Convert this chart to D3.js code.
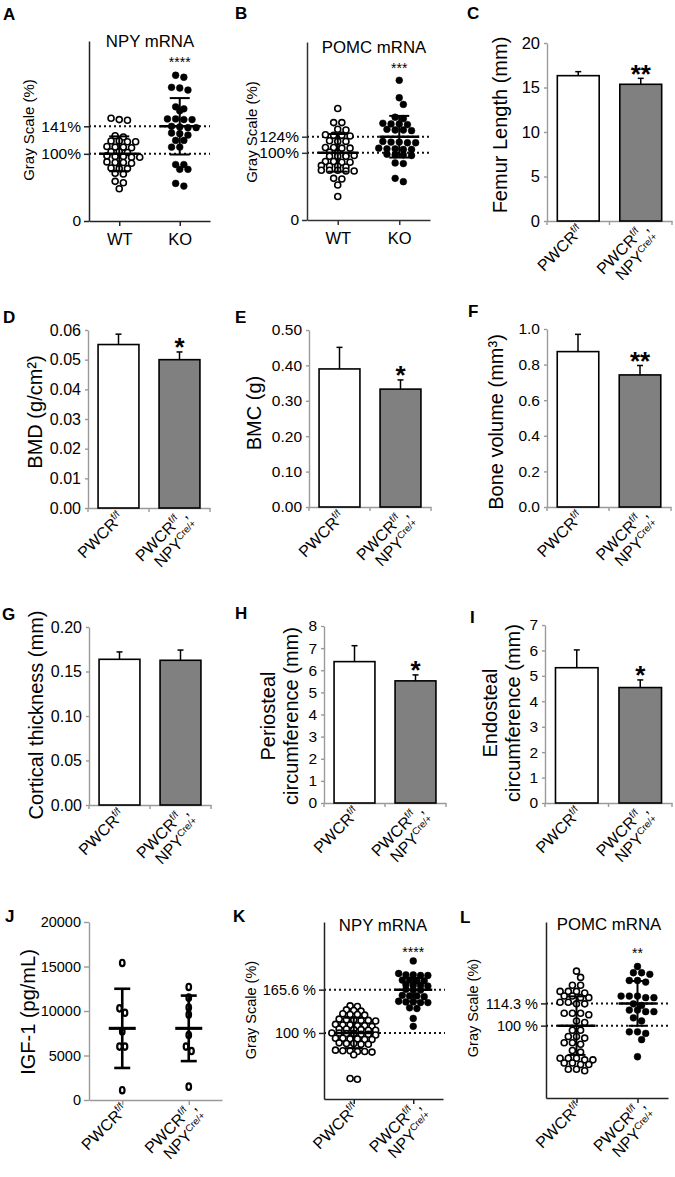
<!DOCTYPE html>
<html><head><meta charset="utf-8">
<script src="https://cdn.jsdelivr.net/npm/d3@7"></script>
<style>
body{margin:0;background:#fff;}
svg{display:block;}
</style></head><body>
<script>
// ================= DATA =================
const mrnaGroups = ["WT", "KO"];
const genoGroups = ["PWCR^f/f", "PWCR^f/f ,|NPY^Cre/+"];

// A: NPY mRNA (gray scale %)
const npyWT_A = [153,151,150,127,125,119,118,119,118,111,110,110,109,103,103,102,97,96,96,95,95,88,87,87,86,79,78,78,71,70,59,57,48];
const npyKO_A = [217,214,199,198,195,170,167,164,152,152,151,151,141,140,139,139,131,130,128,120,120,110,110,84,84,77,77,56,52];
const npyMean_A = [100, 141];
const npySD_A = [26, 42];
const npyTicks_A = [0, 100, 141];
const npyTickLabels_A = ["0", "100%", "141%"];

// B: POMC mRNA (gray scale %)
const pomcWT_B = [166,145,145,135,134,127,126,126,125,118,117,117,108,108,107,107,101,100,96,96,95,95,95,87,87,86,86,81,80,80,79,74,74,74,73,73,62,61,52,35];
const pomcKO_B = [208,182,172,153,151,144,143,143,142,135,134,134,133,117,116,116,115,115,107,106,106,105,105,98,97,97,96,85,84,62,57];
const pomcMean_B = [100, 124];
const pomcSD_B = [28, 31];
const pomcTicks_B = [0, 100, 124];
const pomcTickLabels_B = ["0", "100%", "124%"];

// C-I: bar charts (mean, error)
const femurLength = [16.33, 15.36], femurLengthErr = [0.45, 0.67], femurTicks = [0, 5, 10, 15, 20], femurStars = ["", "**"];
const bmd = [0.0551, 0.0500], bmdErr = [0.0035, 0.0026], bmdTicks = [0, 0.01, 0.02, 0.03, 0.04, 0.05, 0.06], bmdStars = ["", "*"];
const bmc = [0.390, 0.333], bmcErr = [0.061, 0.026], bmcTicks = [0, 0.1, 0.2, 0.3, 0.4, 0.5], bmcStars = ["", "*"];
const boneVolume = [0.873, 0.742], boneVolumeErr = [0.097, 0.053], boneVolumeTicks = [0, 0.2, 0.4, 0.6, 0.8, 1.0], boneVolumeStars = ["", "**"];
const cortThick = [0.1637, 0.1626], cortThickErr = [0.0083, 0.0115], cortThickTicks = [0, 0.05, 0.10, 0.15, 0.20], cortThickStars = ["", ""];
const periCirc = [6.39, 5.52], periCircErr = [0.72, 0.27], periCircTicks = [0, 1, 2, 3, 4, 5, 6, 7, 8], periCircStars = ["", "*"];
const endoCirc = [5.32, 4.54], endoCircErr = [0.70, 0.30], endoCircTicks = [0, 1, 2, 3, 4, 5, 6, 7], endoCircStars = ["", "*"];

// J: IGF-1 (pg/mL)
const igfWT = [15400, 10300, 9800, 7700, 6000, 6000, 1100];
const igfKO = [12700, 11500, 10400, 9600, 7300, 6000, 5500, 1500];
const igfMean = [8050, 8050];
const igfSD = [4450, 3680];
const igfTicks = [0, 5000, 10000, 15000, 20000];

// K: NPY mRNA
const npyWT_K = [141,140,135,134,133,129,128,128,127,121,120,120,119,119,118,113,112,112,111,111,110,106,106,105,105,104,104,100,100,99,99,98,98,97,92,92,91,91,90,90,85,84,84,83,83,74,73,73,72,72,71,67,31,30];
const npyKO_K = [209,190,188,188,187,187,180,180,179,179,173,172,172,171,166,165,165,157,156,156,155,148,147,147,146,146,138,137,122,110];
const npyMean_K = [100, 165.6];
const npySD_K = [23, 17.7];
const npyTicks_K = [100, 165.6];
const npyTickLabels_K = ["100 %", "165.6 %"];

// L: POMC mRNA
const pomcWT_L = [135,131,126,126,122,122,122,121,119,119,118,118,115,115,114,114,108,108,108,107,103,102,97,97,93,93,92,89,89,88,84,83,79,79,79,78,78,76,76,75,75,72,72,71];
const pomcKO_L = [138,134,134,133,129,129,128,119,119,119,118,118,114,113,110,110,109,109,105,103,96,96,95,91,80];
const pomcMean_L = [100, 114.3];
const pomcSD_L = [18.8, 14.4];
const pomcTicks_L = [100, 114.3];
const pomcTickLabels_L = ["100 %", "114.3 %"];

// ================= DRAWING =================
const FONT = '"Liberation Sans", Arial, Helvetica, sans-serif';
const svg = d3.select("body").append("svg")
  .attr("width", 675).attr("height", 1177)
  .style("font-family", FONT);

function panelLetter(t, x, y) {
  svg.append("text").attr("x", x).attr("y", y)
    .attr("font-size", 17).attr("font-weight", "bold").text(t);
}

function rotYLabel(lines, cx, cy, size) {
  const n = lines.length, lh = size * 1.15;
  lines.forEach((s, i) => {
    const bx = cx + (i - (n - 1) / 2) * lh + size * 0.35;
    svg.append("text").attr("transform", `translate(${bx},${cy}) rotate(-90)`)
      .attr("text-anchor", "middle").attr("font-size", size).text(s);
  });
}

function rotXLabel(label, cx, axisY, size) {
  const lines = label.split("|");
  const two = lines.length > 1;
  const ax = two ? cx + 9 : cx + 6, ay = two ? axisY + 8 : axisY + 11;
  const t = svg.append("text").attr("transform", `translate(${ax},${ay}) rotate(-45)`)
    .attr("text-anchor", "end").attr("font-size", size);
  let cur = 0;
  lines.forEach((ln, i) => {
    const m = ln.match(/^([^^]*)\^(\S+)(.*)$/);
    const base = i * size * 1.08;
    t.append("tspan").attr("x", 0).attr("dy", base - cur).text(m[1]); cur = base;
    const sh = -size * 0.38;
    t.append("tspan").attr("dy", sh).attr("font-size", size * 0.6).text(m[2]); cur = base + sh;
    if (m[3]) { t.append("tspan").attr("dy", base - cur).text(m[3]); cur = base; }
  });
}

function styleAxis(sel, color, width, fontSize) {
  sel.attr("font-family", null).attr("font-size", fontSize);
  sel.select(".domain").attr("stroke", color).attr("stroke-width", width);
  sel.selectAll(".tick line").attr("stroke", color).attr("stroke-width", width);
  sel.selectAll(".tick text").attr("fill", "#000");
}

// GraphPad-style scatter layout: points binned into rows, rows centred on the column
function swarm(vals, y, cx, d, binH) {
  const pts = vals.map(v => ({ v, y: y(v) })).sort((a, b) => a.y - b.y);
  const rows = []; let cur = null;
  pts.forEach(p => {
    if (!cur || p.y - cur[0].y > binH) { cur = [p]; rows.push(cur); } else cur.push(p);
  });
  let prev = null, flip = 1;
  rows.forEach(r => {
    let shift = 0;
    if (prev && (r.length % 2) === (prev.r.length % 2) && Math.abs(r[0].y - prev.r[0].y) < d * 0.95) {
      shift = prev.shift === 0 ? flip * d / 2 : 0; flip = -flip;
    }
    r.forEach((p, i) => p.x = cx + (i - (r.length - 1) / 2) * d + shift);
    prev = { r, shift };
  });
  return pts;
}

function scatterPanel(o) {
  const g = svg.append("g");
  const y = d3.scaleLinear().domain(o.domain).range([o.yBot, o.yTop]);
  const x = d3.scalePoint().domain(o.groups).range([o.axisX, o.axisRight]).padding(0.5);
  (o.refLines || []).forEach(v => {
    g.append("line").attr("x1", o.axisX).attr("x2", o.refEnd).attr("y1", y(v)).attr("y2", y(v))
      .attr("stroke", "#111").attr("stroke-width", 2).attr("stroke-dasharray", "2,3");
  });
  const ya = g.append("g").attr("transform", `translate(${o.axisX},0)`)
    .call(d3.axisLeft(y).tickValues(o.tickValues)
      .tickFormat(o.tickLabels ? (d, i) => o.tickLabels[i] : d3.format("d"))
      .tickSize(5).tickSizeOuter(0).tickPadding(3));
  styleAxis(ya, o.axisColor, o.axisWidth, o.tickFont);
  const xa = g.append("g").attr("transform", `translate(0,${o.yBot})`)
    .call(d3.axisBottom(x).tickSize(5).tickSizeOuter(0).tickPadding(7)
      .tickFormat(o.rotLabels ? () => "" : d => d));
  styleAxis(xa, o.axisColor, o.axisWidth, 16.5);
  if (o.rotLabels) o.groups.forEach(gr => rotXLabel(gr, x(gr), o.yBot, 16));

  o.data.forEach((vals, gi) => {
    const cx = x(o.groups[gi]);
    const pts = swarm(vals, y, cx, o.sep, o.binH);
    const filled = o.filled[gi];
    if (o.ellipse) {
      g.selectAll(null).data(pts).enter().append("ellipse")
        .attr("cx", d => d.x).attr("cy", d => d.y).attr("rx", 2.3).attr("ry", 3.2)
        .attr("fill", "#fff").attr("stroke", "#000").attr("stroke-width", 2.2);
    } else {
      g.selectAll(null).data(pts).enter().append("circle")
        .attr("cx", d => d.x).attr("cy", d => d.y).attr("r", filled ? 3.4 : 3.0)
        .attr("fill", filled ? "#000" : "#fff").attr("stroke", "#000").attr("stroke-width", filled ? 0.5 : 1.6);
    }
    const m = o.mean[gi], s = o.sd[gi];
    const lw = o.errWidth;
    g.append("line").attr("x1", cx - o.meanW / 2).attr("x2", cx + o.meanW / 2).attr("y1", y(m)).attr("y2", y(m))
      .attr("stroke", "#000").attr("stroke-width", lw + 0.5);
    g.append("line").attr("x1", cx).attr("x2", cx).attr("y1", y(m - s)).attr("y2", y(m + s))
      .attr("stroke", "#000").attr("stroke-width", lw);
    [m - s, m + s].forEach(v => g.append("line").attr("x1", cx - o.capW / 2).attr("x2", cx + o.capW / 2)
      .attr("y1", y(v)).attr("y2", y(v)).attr("stroke", "#000").attr("stroke-width", lw));
  });

  if (o.title) svg.append("text").attr("x", o.titleX).attr("y", o.titleY).attr("text-anchor", "middle")
    .attr("font-size", 16.8).text(o.title);
  if (o.stars) svg.append("text").attr("x", x(o.groups[1])).attr("y", o.starY).attr("text-anchor", "middle")
    .attr("font-size", 14).text(o.stars);
  rotYLabel(o.ylabel, o.ylabelX, o.ylabelY, o.ylabelSize);
  panelLetter(o.letter, o.letterX, o.letterY);
}

function barPanel(o) {
  const g = svg.append("g");
  const y = d3.scaleLinear().domain(o.domain).range([o.yBot, o.yTop]);
  const x = d3.scaleBand().domain(genoGroups).range([o.axisX, o.axisRight]).padding(0);
  const bw = x.bandwidth() * 0.67;
  const axisColor = "#9a9a9a";
  const ya = g.append("g").attr("transform", `translate(${o.axisX},0)`)
    .call(d3.axisLeft(y).tickValues(o.ticks).tickFormat(d3.format(o.fmt)).tickSize(3).tickSizeOuter(0).tickPadding(4));
  styleAxis(ya, axisColor, 1.4, o.tickFont);
  const xa = g.append("g").attr("transform", `translate(0,${o.yBot})`)
    .call(d3.axisBottom(x).tickSize(0).tickSizeOuter(0).tickFormat(() => ""));
  styleAxis(xa, axisColor, 1.4, 12);
  const bounds = genoGroups.map(gr => x(gr)).concat([o.axisRight]);
  g.selectAll(null).data(bounds).enter().append("line")
    .attr("x1", d => d).attr("x2", d => d).attr("y1", o.yBot).attr("y2", o.yBot + 4)
    .attr("stroke", axisColor).attr("stroke-width", 1.4);
  genoGroups.forEach((gr, i) => {
    const cx = x(gr) + x.bandwidth() / 2;
    const top = y(o.values[i] + o.errs[i]);
    g.append("line").attr("x1", cx).attr("x2", cx).attr("y1", y(o.values[i])).attr("y2", top)
      .attr("stroke", "#000").attr("stroke-width", 1.5);
    g.append("line").attr("x1", cx - 3).attr("x2", cx + 3).attr("y1", top).attr("y2", top)
      .attr("stroke", "#000").attr("stroke-width", 1.5);
    g.append("rect").attr("x", cx - bw / 2).attr("y", y(o.values[i]))
      .attr("width", bw).attr("height", o.yBot - y(o.values[i]))
      .attr("fill", i === 0 ? "#fff" : "#808080").attr("stroke", "#000").attr("stroke-width", 1.6);
    if (o.stars[i]) g.append("text").attr("x", cx).attr("y", top + 4.5).attr("text-anchor", "middle")
      .attr("font-size", 26).attr("font-weight", "bold").text(o.stars[i]);
    rotXLabel(gr, cx, o.yBot, 16);
  });
  rotYLabel(o.ylabel, o.ylabelX, o.ylabelY, 20);
  panelLetter(o.letter, o.letterX, o.letterY);
}

// ---------- A ----------
scatterPanel({
  groups: mrnaGroups, data: [npyWT_A, npyKO_A], filled: [false, true], mean: npyMean_A, sd: npySD_A,
  axisX: 89, axisRight: 210, yTop: 41, yBot: 221, domain: [0, 268], refLines: [100, 141], refEnd: 210,
  tickValues: npyTicks_A, tickLabels: npyTickLabels_A, tickFont: 15.5, axisColor: "#222", axisWidth: 1.5,
  sep: 8.2, binH: 3.5, meanW: 40, capW: 20, errWidth: 2,
  title: "NPY mRNA", titleX: 150, titleY: 47, stars: "****", starY: 67,
  ylabel: ["Gray Scale (%)"], ylabelX: 29, ylabelY: 130, ylabelSize: 15,
  letter: "A", letterX: 3, letterY: 20
});
// ---------- B ----------
scatterPanel({
  groups: mrnaGroups, data: [pomcWT_B, pomcKO_B], filled: [false, true], mean: pomcMean_B, sd: pomcSD_B,
  axisX: 307, axisRight: 430, yTop: 42, yBot: 220, domain: [0, 265], refLines: [100, 124], refEnd: 430,
  tickValues: pomcTicks_B, tickLabels: pomcTickLabels_B, tickFont: 15.5, axisColor: "#333", axisWidth: 1.5,
  sep: 8.2, binH: 3.5, meanW: 40, capW: 20, errWidth: 2,
  title: "POMC mRNA", titleX: 374, titleY: 53, stars: "***", starY: 73,
  ylabel: ["Gray Scale (%)"], ylabelX: 252, ylabelY: 132, ylabelSize: 15,
  letter: "B", letterX: 235, letterY: 19
});
// ---------- C..I ----------
barPanel({ values: femurLength, errs: femurLengthErr, ticks: femurTicks, fmt: "d", stars: femurStars,
  axisX: 547, axisRight: 672, yTop: 43, yBot: 221, domain: [0, 20], tickFont: 16.5,
  ylabel: ["Femur Length (mm)"], ylabelX: 500, ylabelY: 125, letter: "C", letterX: 467, letterY: 19 });
barPanel({ values: bmd, errs: bmdErr, ticks: bmdTicks, fmt: ".2f", stars: bmdStars,
  axisX: 88, axisRight: 210, yTop: 330, yBot: 508, domain: [0, 0.06], tickFont: 16,
  ylabel: ["BMD (g/cm²)"], ylabelX: 35, ylabelY: 412, letter: "D", letterX: 3, letterY: 323 });
barPanel({ values: bmc, errs: bmcErr, ticks: bmcTicks, fmt: ".2f", stars: bmcStars,
  axisX: 309, axisRight: 431, yTop: 330, yBot: 507, domain: [0, 0.5], tickFont: 15.5,
  ylabel: ["BMC (g)"], ylabelX: 254, ylabelY: 413, letter: "E", letterX: 235, letterY: 323 });
barPanel({ values: boneVolume, errs: boneVolumeErr, ticks: boneVolumeTicks, fmt: ".1f", stars: boneVolumeStars,
  axisX: 547, axisRight: 671, yTop: 329, yBot: 507, domain: [0, 1.0], tickFont: 15.5,
  ylabel: ["Bone volume (mm³)"], ylabelX: 496, ylabelY: 422, letter: "F", letterX: 468, letterY: 317 });
barPanel({ values: cortThick, errs: cortThickErr, ticks: cortThickTicks, fmt: ".2f", stars: cortThickStars,
  axisX: 89, axisRight: 211, yTop: 627, yBot: 805, domain: [0, 0.2], tickFont: 16,
  ylabel: ["Cortical thickness (mm)"], ylabelX: 36, ylabelY: 715, letter: "G", letterX: 2, letterY: 620 });
barPanel({ values: periCirc, errs: periCircErr, ticks: periCircTicks, fmt: "d", stars: periCircStars,
  axisX: 324, axisRight: 446, yTop: 626, yBot: 803, domain: [0, 8], tickFont: 15.5,
  ylabel: ["Periosteal", "circumference (mm)"], ylabelX: 279.5, ylabelY: 716, letter: "H", letterX: 235, letterY: 619 });
barPanel({ values: endoCirc, errs: endoCircErr, ticks: endoCircTicks, fmt: "d", stars: endoCircStars,
  axisX: 545, axisRight: 672, yTop: 625, yBot: 803, domain: [0, 7], tickFont: 15.5,
  ylabel: ["Endosteal", "circumference (mm)"], ylabelX: 501.5, ylabelY: 713, letter: "I", letterX: 470, letterY: 623 });
// ---------- J ----------
scatterPanel({
  groups: genoGroups, rotLabels: true, data: [igfWT, igfKO], filled: [false, false], ellipse: true,
  mean: igfMean, sd: igfSD,
  axisX: 89, axisRight: 222, yTop: 922, yBot: 1100, domain: [0, 20000],
  tickValues: igfTicks, tickFont: 14.5, axisColor: "#9a9a9a", axisWidth: 1.4,
  sep: 5.5, binH: 5, meanW: 27, capW: 16, errWidth: 2.6,
  ylabel: ["IGF-1 (pg/mL)"], ylabelX: 28, ylabelY: 1012, ylabelSize: 20,
  letter: "J", letterX: 5, letterY: 922
});
// ---------- K ----------
scatterPanel({
  groups: genoGroups, rotLabels: true, data: [npyWT_K, npyKO_K], filled: [false, true], mean: npyMean_K, sd: npySD_K,
  axisX: 324, axisRight: 443, yTop: 922, yBot: 1099, domain: [0, 268], refLines: [100, 165.6], refEnd: 445,
  tickValues: npyTicks_K, tickLabels: npyTickLabels_K, tickFont: 14.5, axisColor: "#222", axisWidth: 1.5,
  sep: 7.3, binH: 3.3, meanW: 38, capW: 18, errWidth: 2,
  title: "NPY mRNA", titleX: 383, titleY: 931, stars: "****", starY: 957,
  ylabel: ["Gray Scale (%)"], ylabelX: 251, ylabelY: 1010, ylabelSize: 14.5,
  letter: "K", letterX: 233, letterY: 922
});
// ---------- L ----------
scatterPanel({
  groups: genoGroups, rotLabels: true, data: [pomcWT_L, pomcKO_L], filled: [false, true], mean: pomcMean_L, sd: pomcSD_L,
  axisX: 546, axisRight: 668, yTop: 922, yBot: 1098, domain: [53.5, 166.6], refLines: [100, 114.3], refEnd: 670,
  tickValues: pomcTicks_L, tickLabels: pomcTickLabels_L, tickFont: 14.5, axisColor: "#222", axisWidth: 1.5,
  sep: 8.2, binH: 3.2, meanW: 38, capW: 18, errWidth: 2,
  title: "POMC mRNA", titleX: 609, titleY: 930, stars: "**", starY: 958,
  ylabel: ["Gray Scale (%)"], ylabelX: 473, ylabelY: 1008, ylabelSize: 14.5,
  letter: "L", letterX: 460, letterY: 923
});
</script>
</body></html>
